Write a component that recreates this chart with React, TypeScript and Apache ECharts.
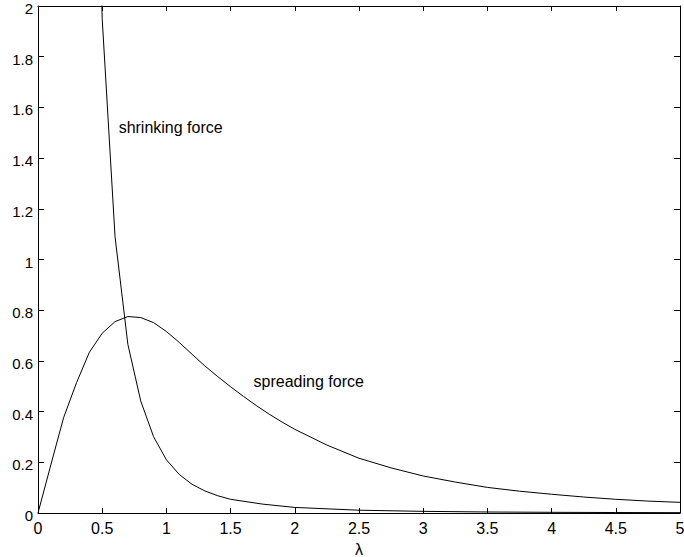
import React, { useEffect, useRef } from "react";
import * as echarts from "echarts";

const spreadLambda = [0, 0.1, 0.2, 0.3, 0.4, 0.5, 0.6, 0.7, 0.8, 0.9, 1.0, 1.1, 1.2, 1.3, 1.4, 1.5, 1.6, 1.7, 1.8, 1.9, 2.0, 2.25, 2.5, 2.75, 3.0, 3.25, 3.5, 3.75, 4.0, 4.25, 4.5, 4.75, 5.0];
const spreadValues = [0, 0.19, 0.377, 0.514, 0.634, 0.709, 0.755, 0.775, 0.771, 0.751, 0.716, 0.673, 0.626, 0.58, 0.538, 0.498, 0.46, 0.424, 0.39, 0.359, 0.33, 0.268, 0.216, 0.178, 0.146, 0.122, 0.101, 0.086, 0.074, 0.063, 0.054, 0.047, 0.042];

const shrinkLambda = [0.4, 0.5, 0.6, 0.7, 0.8, 0.9, 1.0, 1.1, 1.2, 1.3, 1.4, 1.5, 1.75, 2.0, 2.5, 3.0, 3.5, 4.0, 4.5, 5.0];
const shrinkValues = [3.9, 1.95, 1.09, 0.665, 0.442, 0.301, 0.21, 0.152, 0.113, 0.087, 0.068, 0.054, 0.035, 0.022, 0.011, 0.0065, 0.004, 0.0027, 0.0019, 0.0013];

const shrinkLabel = { text: "shrinking force", lambda: 0.628, value: 1.52 };
const spreadLabel = { text: "spreading force", lambda: 1.679, value: 0.518 };

const FONT = "'Liberation Sans', Arial, Helvetica, sans-serif";

export default function App() {
  const ref = useRef<HTMLDivElement>(null);
  useEffect(() => {
    if (!ref.current) return;
    const chart = echarts.init(ref.current, null, { renderer: "svg" });
    const lineStyle = { color: "#000", width: 1 };
    const axisLine = { show: true, onZero: false, lineStyle };
    const tick = { show: true, inside: true, length: 5, lineStyle: { color: "#000", width: 1 } };
    const label = { color: "#000", fontSize: 16, fontFamily: FONT };
    const markLabel = (l: { text: string; lambda: number; value: number }) => ({
      symbol: "circle",
      symbolSize: 0,
      silent: true,
      data: [
        {
          coord: [l.lambda, l.value],
          label: {
            show: true,
            position: "right",
            distance: 0,
            formatter: l.text,
            color: "#000",
            fontSize: 16,
            fontFamily: FONT,
          },
        },
      ],
    });
    chart.setOption({
      animation: false,
      backgroundColor: "#fff",
      grid: { left: 38, right: 4, top: 6, bottom: 44, show: false, containLabel: false, outerBoundsMode: "none" },
      xAxis: [
        {
          type: "value",
          min: 0,
          max: 5,
          interval: 0.5,
          position: "bottom",
          axisLine,
          axisTick: tick,
          axisLabel: { ...label, margin: 7 },
          splitLine: { show: false },
          name: "λ",
          nameLocation: "middle",
          nameGap: 28,
          nameTextStyle: { color: "#000", fontSize: 16, fontFamily: FONT },
        },
        {
          type: "value",
          min: 0,
          max: 5,
          interval: 0.5,
          position: "top",
          axisLine,
          axisTick: tick,
          axisLabel: { show: false },
          splitLine: { show: false },
        },
      ],
      yAxis: [
        {
          type: "value",
          min: 0,
          max: 2,
          interval: 0.2,
          position: "left",
          axisLine,
          axisTick: { ...tick, length: 6 },
          axisLabel: { ...label, fontSize: 15, lineHeight: 5, verticalAlign: "top", margin: 5 },
          splitLine: { show: false },
        },
        {
          type: "value",
          min: 0,
          max: 2,
          interval: 0.2,
          position: "right",
          axisLine,
          axisTick: { ...tick, length: 6 },
          axisLabel: { show: false },
          splitLine: { show: false },
        },
      ],
      series: [
        {
          type: "line",
          name: "spreading force",
          data: spreadLambda.map((x, i) => [x, spreadValues[i]]),
          showSymbol: false,
          symbol: "none",
          lineStyle,
          clip: true,
          markPoint: markLabel(spreadLabel),
        },
        {
          type: "line",
          name: "shrinking force",
          data: shrinkLambda.map((x, i) => [x, shrinkValues[i]]),
          showSymbol: false,
          symbol: "none",
          lineStyle,
          clip: true,
          markPoint: markLabel(shrinkLabel),
        },
      ],
    });
    return () => chart.dispose();
  }, []);
  return (
    <div
      ref={ref}
      style={{ position: "fixed", left: 0, top: 0, width: 684, height: 557, background: "#fff" }}
    />
  );
}
